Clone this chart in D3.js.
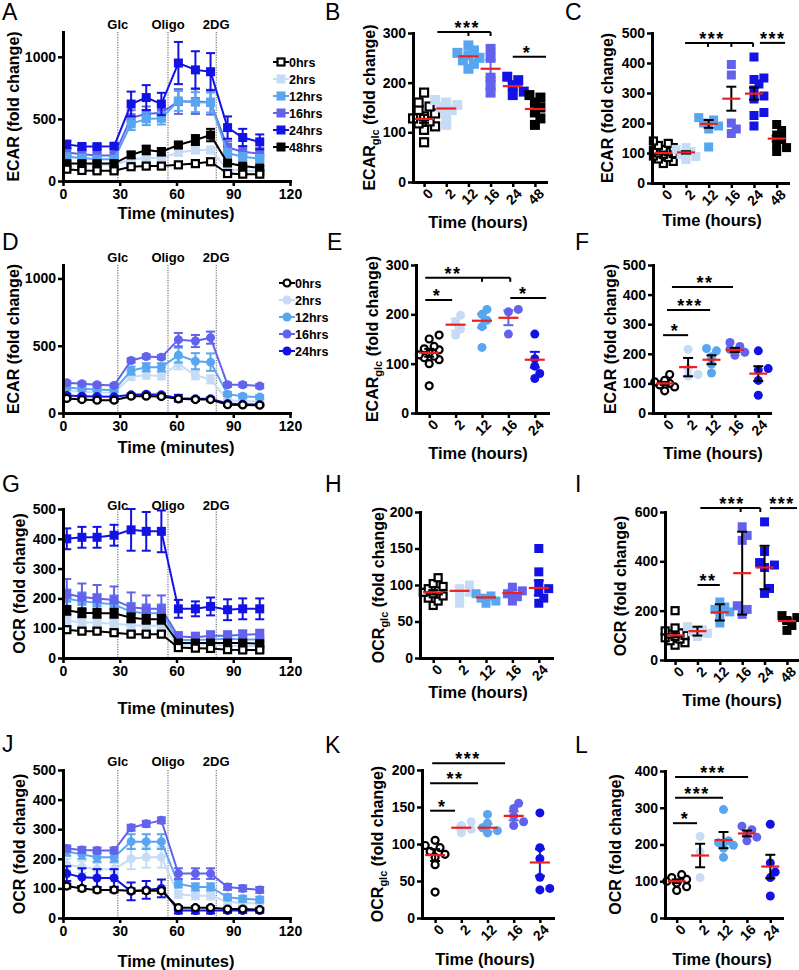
<!DOCTYPE html>
<html><head><meta charset="utf-8">
<script src="https://cdn.jsdelivr.net/npm/d3@7"></script>
<style>
body{margin:0;background:#fff;}
svg{font-family:"Liberation Sans",Arial,Helvetica,sans-serif;}
</style></head><body>
<script>
// ---------------- DATA ----------------
const times = [2, 10, 18, 27, 36, 44, 52, 61, 70, 78, 87, 95, 104];
const injTimes = [29, 55.5, 81];
const injLabels = ["Glc", "Oligo", "2DG"];
const legendA = ["0hrs", "2hrs", "12hrs", "16hrs", "24hrs", "48hrs"];
const legendD = ["0hrs", "2hrs", "12hrs", "16hrs", "24hrs"];
const cats6 = ["0", "2", "12", "16", "24", "48"];
const cats5 = ["0", "2", "12", "16", "24"];
const xTicksMin = [0, 30, 60, 90, 120];

// Panel A: ECAR time course (squares)
const ecarA_0 = [95, 85, 82, 82, 115, 120, 120, 130, 140, 155, 60, 55, 55];
const ecarA_0_err = [12, 10, 10, 10, 10, 10, 10, 12, 15, 20, 8, 8, 8];
const ecarA_2 = [140, 135, 130, 128, 175, 185, 185, 230, 250, 250, 95, 85, 80];
const ecarA_2_err = [15, 15, 15, 15, 20, 20, 20, 25, 25, 25, 10, 10, 10];
const ecarA_12 = [195, 185, 175, 175, 460, 500, 505, 645, 635, 632, 225, 195, 180];
const ecarA_12_err = [20, 20, 20, 20, 50, 50, 50, 80, 80, 80, 35, 30, 30];
const ecarA_16 = [230, 215, 205, 205, 510, 540, 550, 640, 640, 635, 270, 235, 220];
const ecarA_16_err = [30, 25, 25, 25, 60, 60, 60, 100, 100, 100, 50, 45, 45];
const ecarA_24 = [295, 278, 277, 280, 620, 672, 620, 950, 895, 880, 430, 350, 315];
const ecarA_24_err = [30, 20, 20, 20, 100, 100, 90, 170, 150, 150, 90, 70, 60];
const ecarA_48 = [140, 140, 140, 140, 210, 250, 236, 290, 330, 370, 145, 120, 105];
const ecarA_48_err = [20, 20, 20, 20, 25, 35, 30, 25, 40, 50, 20, 15, 15];

// Panel D: ECAR time course (circles)
const ecarD_0 = [108, 100, 95, 95, 125, 125, 122, 105, 100, 100, 62, 60, 58];
const ecarD_0_err = [10, 8, 8, 8, 10, 10, 10, 10, 10, 10, 8, 8, 8];
const ecarD_2 = [165, 158, 152, 150, 270, 280, 275, 365, 280, 250, 95, 90, 85];
const ecarD_2_err = [15, 15, 15, 15, 25, 25, 25, 40, 30, 30, 10, 10, 10];
const ecarD_12 = [190, 180, 175, 170, 315, 340, 340, 430, 385, 378, 140, 125, 118];
const ecarD_12_err = [15, 15, 15, 15, 30, 30, 30, 55, 60, 65, 15, 15, 15];
const ecarD_16 = [225, 218, 210, 205, 390, 420, 415, 545, 535, 560, 210, 210, 200];
const ecarD_16_err = [12, 12, 12, 12, 15, 15, 15, 50, 45, 45, 15, 15, 15];
const ecarD_24 = [130, 125, 122, 120, 135, 140, 135, 110, 105, 105, 70, 65, 62];
const ecarD_24_err = [10, 8, 8, 8, 10, 10, 10, 25, 10, 10, 8, 8, 8];

// Panel G: OCR time course (squares)
const ocrG_0 = [95, 90, 90, 85, 80, 80, 80, 35, 33, 32, 28, 27, 27];
const ocrG_0_err = [8, 8, 8, 8, 8, 8, 8, 6, 6, 6, 5, 5, 5];
const ocrG_2 = [125, 120, 118, 115, 110, 108, 108, 45, 45, 45, 42, 40, 40];
const ocrG_2_err = [15, 15, 15, 15, 15, 15, 15, 8, 8, 8, 8, 8, 8];
const ocrG_12 = [200, 190, 185, 180, 155, 150, 150, 60, 60, 62, 65, 62, 62];
const ocrG_12_err = [30, 30, 30, 30, 30, 30, 30, 12, 12, 12, 15, 15, 15];
const ocrG_16 = [215, 205, 200, 195, 170, 165, 165, 72, 70, 75, 75, 78, 80];
const ocrG_16_err = [50, 45, 45, 45, 50, 45, 45, 15, 15, 15, 15, 15, 15];
const ocrG_24 = [400, 405, 405, 412, 430, 425, 425, 165, 165, 173, 162, 165, 165];
const ocrG_24_err = [35, 35, 35, 35, 70, 65, 70, 30, 25, 30, 35, 35, 35];
const ocrG_48 = [160, 152, 150, 150, 135, 130, 130, 50, 50, 50, 50, 50, 48];
const ocrG_48_err = [15, 15, 15, 15, 15, 15, 15, 8, 8, 8, 8, 8, 8];

// Panel J: OCR time course (circles)
const ocrJ_0 = [108, 100, 95, 95, 92, 92, 92, 35, 35, 35, 30, 30, 28];
const ocrJ_0_err = [8, 8, 8, 8, 8, 8, 8, 5, 5, 5, 5, 5, 5];
const ocrJ_2 = [180, 172, 165, 165, 200, 205, 205, 80, 75, 75, 55, 50, 50];
const ocrJ_2_err = [20, 20, 20, 20, 35, 35, 35, 12, 12, 12, 10, 10, 10];
const ocrJ_12 = [225, 215, 205, 205, 258, 258, 258, 115, 105, 105, 70, 65, 62];
const ocrJ_12_err = [15, 15, 15, 15, 25, 25, 25, 12, 12, 12, 10, 10, 10];
const ocrJ_16 = [235, 230, 228, 228, 305, 318, 330, 150, 150, 150, 105, 100, 95];
const ocrJ_16_err = [10, 10, 10, 10, 10, 10, 10, 18, 18, 18, 10, 10, 10];
const ocrJ_24 = [150, 138, 135, 135, 90, 95, 100, 25, 25, 25, 25, 25, 25];
const ocrJ_24_err = [25, 30, 30, 30, 30, 30, 30, 10, 10, 10, 8, 8, 8];

// Panel B: ECAR_glc (squares)
const ecarGlcB = [
  [80, 105, 112, 118, 122, 128, 132, 138, 145, 152, 160, 180],
  [115, 135, 145, 150, 155, 160, 165],
  [228, 238, 245, 250, 255, 260, 265, 275],
  [180, 195, 210, 250, 268],
  [175, 182, 195, 205, 212],
  [115, 128, 140, 150, 160, 170, 175]];
const ecarGlcB_mean = [127, 148, 253, 228, 193, 147];
const ecarGlcB_err = [8, 6, 5, 18, 8, 10];

// Panel C: ECAR (squares)
const ecarC = [
  [65, 72, 80, 85, 90, 95, 98, 100, 104, 108, 112, 118, 125, 132, 140],
  [78, 88, 95, 105, 112, 118],
  [120, 180, 190, 200, 210, 218],
  [165, 180, 200, 360, 395],
  [190, 225, 235, 280, 290, 310, 330, 345, 350, 420],
  [105, 118, 130, 145, 160, 175, 195]];
const ecarC_mean = [100, 102, 197, 281, 298, 148];
const ecarC_err = [5, 4, 13, 40, 20, 10];

// Panel E: ECAR_glc (circles)
const ecarGlcE = [
  [55, 100, 108, 112, 115, 118, 122, 128, 130, 135, 150, 158],
  [158, 170, 185, 198],
  [133, 175, 188, 200, 210],
  [160, 205, 210],
  [70, 80, 95, 110, 160]];
const ecarGlcE_mean = [122, 179, 187, 193, 108];
const ecarGlcE_err = [8, 12, 14, 15, 16];

// Panel F: ECAR (circles)
const ecarF = [
  [75, 88, 95, 100, 105, 110, 130],
  [125, 130, 150, 215],
  [135, 165, 190, 210, 218],
  [195, 205, 215, 225, 238],
  [60, 110, 145, 150, 210]];
const ecarF_mean = [100, 155, 180, 213, 133];
const ecarF_err = [5, 31, 15, 7, 25];

// Panel H: OCR_glc (squares)
const ocrGlcH = [
  [72, 78, 82, 85, 88, 90, 92, 95, 98, 102, 110],
  [75, 85, 90, 95, 100],
  [75, 78, 82, 85, 88],
  [78, 84, 88, 92, 97],
  [75, 82, 90, 95, 102, 118, 150]];
const ocrGlcH_mean = [90, 92, 83, 89, 96];
const ocrGlcH_err = [3, 5, 3, 4, 10];

// Panel I: OCR (squares)
const ocrI = [
  [60, 70, 78, 85, 90, 95, 100, 105, 110, 118, 130, 200],
  [95, 108, 115, 122, 135],
  [150, 180, 195, 205, 215, 235],
  [185, 205, 220, 485, 505, 540],
  [270, 290, 375, 385, 395, 440, 560],
  [120, 140, 160, 172, 180]];
const ocrI_mean = [100, 117, 193, 352, 375, 158];
const ocrI_err = [8, 18, 33, 168, 88, 10];

// Panel K: OCR_glc (circles)
const ocrGlcK = [
  [35, 72, 82, 86, 90, 95, 98, 105],
  [115, 120, 125, 130],
  [115, 118, 122, 128, 140],
  [125, 130, 138, 148, 155],
  [38, 40, 55, 80, 95, 142]];
const ocrGlcK_mean = [85, 122, 122, 138, 75];
const ocrGlcK_err = [8, 3, 5, 6, 18];

// Panel L: OCR (circles)
const ocrL = [
  [75, 85, 95, 100, 105, 110, 118],
  [110, 180, 222],
  [165, 190, 198, 205, 210, 295],
  [210, 220, 228, 240, 250],
  [60, 110, 125, 150, 255]];
const ocrL_mean = [100, 170, 212, 230, 140];
const ocrL_err = [5, 32, 22, 8, 32];

// Significance annotations (category index units, value units)
const sigB = [{from: 0.6, to: 3, ticks: [2, 3], y: 302, at: 1.95, label: "***"},
              {from: 4.0, to: 5.5, ticks: [], y: 252, at: 4.64, label: "*"}];
const sigC = [{from: 0.96, to: 3.96, ticks: [1.97, 3, 3.96], y: 467, at: 2.15, label: "***"},
              {from: 4.26, to: 5.37, ticks: [], y: 467, at: 4.83, label: "***"}];
const sigE = [{from: -0.15, to: 0.87, ticks: [], y: 229, at: 0.3, label: "*"},
              {from: -0.15, to: 3.07, ticks: [2, 3.07], y: 274, at: 0.9, label: "**"},
              {from: 3.07, to: 4.43, ticks: [], y: 233, at: 3.56, label: "*"}];
const sigF = [{from: -0.07, to: 1.0, ticks: [], y: 263, at: 0.44, label: "*"},
              {from: 0.1, to: 1.94, ticks: [], y: 348, at: 1.08, label: "***"},
              {from: 0.31, to: 2.92, ticks: [], y: 426, at: 1.72, label: "**"}];
const sigI = [{from: 1.0, to: 2.0, ticks: [], y: 304, at: 1.47, label: "**"},
              {from: 1.13, to: 3.81, ticks: [2.93, 3.81], y: 616, at: 2.55, label: "***"},
              {from: 4.24, to: 5.45, ticks: [], y: 616, at: 4.78, label: "***"}];
const sigK = [{from: -0.19, to: 0.76, ticks: [], y: 145, at: 0.27, label: "*"},
              {from: -0.19, to: 1.64, ticks: [], y: 182, at: 0.76, label: "**"},
              {from: -0.11, to: 2.67, ticks: [], y: 209, at: 1.26, label: "***"}];
const sigL = [{from: -0.16, to: 0.87, ticks: [], y: 258, at: 0.35, label: "*"},
              {from: -0.07, to: 1.98, ticks: [], y: 327, at: 0.87, label: "***"},
              {from: -0.07, to: 3.05, ticks: [], y: 384, at: 1.55, label: "***"}];

// ---------------- STYLE ----------------
const colorOf = {"0": "#000000", "2": "#c6dbf5", "12": "#58a6f0", "16": "#6262ec", "24": "#1212e4", "48": "#000000"};
const RED = "#f21d1d";
const W = 799, H = 970;
const svg = d3.select("body").append("svg").attr("width", W).attr("height", H);
const fmt = d3.format("d");

function marker(sel, shape, cx, cy, size, key) {
  const open = key === "0";
  const col = colorOf[key];
  if (shape === "sq") {
    const s = open ? size - 2 : size;
    sel.append("rect").attr("x", cx - s / 2).attr("y", cy - s / 2).attr("width", s).attr("height", s)
      .attr("fill", open ? "#fff" : col).attr("stroke", open ? "#000" : "none").attr("stroke-width", open ? 2.2 : 0);
  } else {
    const r = open ? size / 2 - 1 : size / 2;
    sel.append("circle").attr("cx", cx).attr("cy", cy).attr("r", r)
      .attr("fill", open ? "#fff" : col).attr("stroke", open ? "#000" : "none").attr("stroke-width", open ? 2.2 : 0);
  }
}

function styleAxis(g) {
  g.select(".domain").attr("stroke", "#000").attr("stroke-width", 3).attr("stroke-linecap", "square");
  g.selectAll(".tick line").attr("stroke", "#000").attr("stroke-width", 2.5);
  g.selectAll(".tick text").attr("fill", "#000").attr("font-size", 14).attr("font-weight", "bold")
    .attr("font-family", '"Liberation Sans",Arial,sans-serif');
}

function letter(t, x, y) {
  svg.append("text").attr("x", x).attr("y", y).attr("font-size", 23).attr("fill", "#000").text(t);
}

function yLabel(x, y, main, sub) {
  const t = svg.append("text").attr("transform", `translate(${x},${y}) rotate(-90)`)
    .attr("text-anchor", "middle").attr("dy", "0.35em").attr("font-size", 16).attr("font-weight", "bold");
  t.append("tspan").text(main);
  if (sub) {
    t.append("tspan").attr("dy", 4).attr("font-size", 11).text(sub);
    t.append("tspan").attr("dy", -4).text(" (fold change)");
  } else {
    t.append("tspan").text(" (fold change)");
  }
}

function xTitle(x, y, txt) {
  svg.append("text").attr("x", x).attr("y", y).attr("text-anchor", "middle")
    .attr("font-size", 16.5).attr("font-weight", "bold").text(txt);
}

// ---------------- LINE PANELS ----------------
function linePanel(o) {
  const g = svg.append("g");
  const x = d3.scaleLinear().domain([0, 120]).range([63, 290]);
  const y = d3.scaleLinear().domain([0, o.ymax]).range([o.y0, o.ytop]);
  injTimes.forEach((t, i) => {
    g.append("line").attr("x1", x(t)).attr("x2", x(t)).attr("y1", y(o.ymax)).attr("y2", y(0))
      .attr("stroke", "#555").attr("stroke-width", 1).attr("stroke-dasharray", "1.2,1.3");
    g.append("text").attr("x", x(t)).attr("y", o.injY).attr("text-anchor", "middle")
      .attr("font-size", 13).attr("font-weight", "bold").text(injLabels[i]);
  });
  o.series.forEach(([key, vals, errs]) => {
    const col = colorOf[key];
    const pts = times.map((t, i) => ({t, v: vals[i], e: errs[i]}));
    const eg = g.append("g").attr("stroke", col).attr("stroke-width", 2);
    pts.forEach(p => {
      eg.append("line").attr("x1", x(p.t)).attr("x2", x(p.t)).attr("y1", y(p.v - p.e)).attr("y2", y(p.v + p.e));
      [p.v - p.e, p.v + p.e].forEach(v => eg.append("line").attr("x1", x(p.t) - 4.5).attr("x2", x(p.t) + 4.5)
        .attr("y1", y(v)).attr("y2", y(v)));
    });
    g.append("path").datum(pts).attr("d", d3.line().x(p => x(p.t)).y(p => y(p.v)))
      .attr("fill", "none").attr("stroke", col).attr("stroke-width", 2);
    const mg = g.append("g");
    pts.forEach(p => marker(mg, o.shape, x(p.t), y(p.v), 9, key));
  });
  const ya = g.append("g").attr("transform", "translate(63,0)")
    .call(d3.axisLeft(y).tickValues(o.yticks).tickFormat(fmt).tickSize(5).tickPadding(2).tickSizeOuter(0));
  styleAxis(ya);
  const xa = g.append("g").attr("transform", `translate(0,${o.y0})`)
    .call(d3.axisBottom(x).tickValues(xTicksMin).tickFormat(fmt).tickSize(5).tickPadding(3).tickSizeOuter(0));
  styleAxis(xa);
  xTitle(176, o.titleY, "Time (minutes)");
  yLabel(o.ylx, (o.y0 + o.ytop) / 2, o.ylabel);
  if (o.legend) {
    o.legend.forEach((lab, i) => {
      const key = lab.replace("hrs", "");
      const cy = o.legY + i * o.legStep;
      const cx = o.legX;
      g.append("line").attr("x1", cx - 8).attr("x2", cx + 8).attr("y1", cy).attr("y2", cy)
        .attr("stroke", colorOf[key]).attr("stroke-width", 2);
      marker(g, o.shape, cx, cy, 9, key);
      g.append("text").attr("x", cx + 8).attr("y", cy + 4.5).attr("font-size", 12.5).attr("font-weight", "bold").text(lab);
    });
  }
}

// ---------------- CATEGORY PANELS ----------------
function swarm(vals, y, size) {
  const placed = [];
  const sorted = vals.slice().sort((a, b) => a - b);
  const step = size * 0.55;
  const cands = [0, step, -step, 2 * step, -2 * step];
  const minD = size * 0.72;
  sorted.forEach(v => {
    const py = y(v);
    let best = 0, bestD = -1;
    for (const off of cands) {
      const d = placed.length ? d3.min(placed, q => Math.hypot(q.dx - off, q.py - py)) : Infinity;
      if (d >= minD) { best = off; bestD = d; break; }
      if (d > bestD) { bestD = d; best = off; }
    }
    placed.push({dx: best, py});
  });
  return placed;
}

function catPanel(o) {
  const g = svg.append("g");
  const x = d3.scalePoint().domain(o.cats).range([o.left, o.right]).padding(o.pad);
  const y = d3.scaleLinear().domain([0, o.ymax]).range([o.y0, o.ytop]);
  const pg = g.append("g");
  o.groups.forEach((vals, gi) => {
    const key = o.cats[gi];
    swarm(vals, y, o.size).forEach(p => marker(pg, o.shape, x(key) + p.dx, p.py, o.size, key));
  });
  o.cats.forEach((key, gi) => {
    const cx = x(key), m = o.means[gi], e = o.errs[gi];
    const col = o.errBlack ? "#000" : colorOf[key];
    const eg = g.append("g").attr("stroke", col).attr("stroke-width", 2);
    eg.append("line").attr("x1", cx).attr("x2", cx).attr("y1", y(m - e)).attr("y2", y(m + e));
    [m - e, m + e].forEach(v => eg.append("line").attr("x1", cx - 5).attr("x2", cx + 5).attr("y1", y(v)).attr("y2", y(v)));
    g.append("line").attr("x1", cx - o.meanW / 2).attr("x2", cx + o.meanW / 2).attr("y1", y(m)).attr("y2", y(m))
      .attr("stroke", RED).attr("stroke-width", 2.2);
  });
  const ya = g.append("g").attr("transform", `translate(${o.left},0)`)
    .call(d3.axisLeft(y).tickValues(o.yticks).tickFormat(fmt).tickSize(5).tickPadding(2).tickSizeOuter(0));
  styleAxis(ya);
  const xa = g.append("g").attr("transform", `translate(0,${o.y0})`)
    .call(d3.axisBottom(x).tickSize(5).tickSizeOuter(0));
  styleAxis(xa);
  xa.selectAll(".tick text").attr("x", 0).attr("y", 0).attr("dy", "0.35em")
    .attr("text-anchor", "end").attr("transform", "translate(6,9) rotate(-45)");
  // significance
  const ix = i => x(o.cats[0]) + i * x.step();
  const sg = g.append("g");
  o.sig.forEach(s => {
    const yy = y(s.y);
    sg.append("line").attr("x1", ix(s.from)).attr("x2", Math.min(ix(s.to), 798)).attr("y1", yy).attr("y2", yy)
      .attr("stroke", "#000").attr("stroke-width", 2);
    s.ticks.forEach(t => sg.append("line").attr("x1", ix(t)).attr("x2", ix(t)).attr("y1", yy).attr("y2", yy + 4)
      .attr("stroke", "#000").attr("stroke-width", 2));
    sg.append("text").attr("x", ix(s.at)).attr("y", yy + 2).attr("text-anchor", "middle")
      .attr("font-size", 18).attr("font-weight", "bold").attr("letter-spacing", 1.5).text(s.label);
  });
  xTitle(o.tx, o.ty, "Time (hours)");
  yLabel(o.ylx, (o.y0 + o.ytop) / 2, o.ylabel, o.sub);
}

// ---------------- BUILD ----------------
letter("A", 2, 20); letter("B", 325, 20); letter("C", 565, 20);
letter("D", 2, 250); letter("E", 327, 250); letter("F", 575, 250);
letter("G", 2, 492); letter("H", 325, 492); letter("I", 575, 492);
letter("J", 2, 752); letter("K", 325, 753); letter("L", 575, 753);

linePanel({ymax: 1200, y0: 181, ytop: 32, yticks: [0, 500, 1000], injY: 28.5, shape: "sq",
  titleY: 219, ylx: 13, ylabel: "ECAR",
  legend: legendA, legX: 281, legY: 62, legStep: 17,
  series: [["16", ecarA_16, ecarA_16_err], ["12", ecarA_12, ecarA_12_err], ["2", ecarA_2, ecarA_2_err],
           ["48", ecarA_48, ecarA_48_err], ["24", ecarA_24, ecarA_24_err], ["0", ecarA_0, ecarA_0_err]]});

linePanel({ymax: 1100, y0: 413, ytop: 265, yticks: [0, 500, 1000], injY: 261.5, shape: "ci",
  titleY: 453, ylx: 13, ylabel: "ECAR",
  legend: legendD, legX: 287, legY: 283, legStep: 17,
  series: [["2", ecarD_2, ecarD_2_err], ["12", ecarD_12, ecarD_12_err], ["16", ecarD_16, ecarD_16_err],
           ["24", ecarD_24, ecarD_24_err], ["0", ecarD_0, ecarD_0_err]]});

linePanel({ymax: 500, y0: 658, ytop: 509, yticks: [0, 100, 200, 300, 400, 500], injY: 509.5, shape: "sq",
  titleY: 714, ylx: 19, ylabel: "OCR",
  series: [["2", ocrG_2, ocrG_2_err], ["12", ocrG_12, ocrG_12_err], ["16", ocrG_16, ocrG_16_err],
           ["48", ocrG_48, ocrG_48_err], ["24", ocrG_24, ocrG_24_err], ["0", ocrG_0, ocrG_0_err]]});

linePanel({ymax: 500, y0: 918, ytop: 770, yticks: [0, 100, 200, 300, 400, 500], injY: 765.5, shape: "ci",
  titleY: 967, ylx: 19, ylabel: "OCR",
  series: [["2", ocrJ_2, ocrJ_2_err], ["12", ocrJ_12, ocrJ_12_err], ["16", ocrJ_16, ocrJ_16_err],
           ["24", ocrJ_24, ocrJ_24_err], ["0", ocrJ_0, ocrJ_0_err]]});

catPanel({cats: cats6, left: 413, right: 546, pad: 0.5, y0: 182, ytop: 33, ymax: 300, yticks: [0, 100, 200, 300],
  groups: ecarGlcB, means: ecarGlcB_mean, errs: ecarGlcB_err, errBlack: false, shape: "sq", size: 10, meanW: 20,
  sig: sigB, tx: 478, ty: 228, ylx: 369, ylabel: "ECAR", sub: "glc"});
catPanel({cats: cats6, left: 652, right: 788, pad: 0.5, y0: 183, ytop: 33, ymax: 500, yticks: [0, 100, 200, 300, 400, 500],
  groups: ecarC, means: ecarC_mean, errs: ecarC_err, errBlack: true, shape: "sq", size: 9, meanW: 18,
  sig: sigC, tx: 712, ty: 226, ylx: 607, ylabel: "ECAR"});
catPanel({cats: cats5, left: 416, right: 548, pad: 0.5, y0: 413, ytop: 265, ymax: 300, yticks: [0, 100, 200, 300],
  groups: ecarGlcE, means: ecarGlcE_mean, errs: ecarGlcE_err, errBlack: false, shape: "ci", size: 9, meanW: 20,
  sig: sigE, tx: 478, ty: 459, ylx: 372, ylabel: "ECAR", sub: "glc"});
catPanel({cats: cats5, left: 653, right: 770, pad: 0.5, y0: 413, ytop: 265, ymax: 500, yticks: [0, 100, 200, 300, 400, 500],
  groups: ecarF, means: ecarF_mean, errs: ecarF_err, errBlack: true, shape: "ci", size: 9, meanW: 18,
  sig: sigF, tx: 713, ty: 459, ylx: 610, ylabel: "ECAR"});
catPanel({cats: cats5, left: 420, right: 552, pad: 0.5, y0: 658, ytop: 512, ymax: 200, yticks: [0, 50, 100, 150, 200],
  groups: ocrGlcH, means: ocrGlcH_mean, errs: ocrGlcH_err, errBlack: false, shape: "sq", size: 9, meanW: 20,
  sig: [], tx: 478, ty: 698, ylx: 378, ylabel: "OCR", sub: "glc"});
catPanel({cats: cats6, left: 665, right: 797, pad: 0.45, y0: 660, ytop: 512, ymax: 600, yticks: [0, 200, 400, 600],
  groups: ocrI, means: ocrI_mean, errs: ocrI_err, errBlack: true, shape: "sq", size: 9, meanW: 18,
  sig: sigI, tx: 732, ty: 706, ylx: 620, ylabel: "OCR"});
catPanel({cats: cats5, left: 422, right: 553, pad: 0.5, y0: 918, ytop: 770, ymax: 200, yticks: [0, 50, 100, 150, 200],
  groups: ocrGlcK, means: ocrGlcK_mean, errs: ocrGlcK_err, errBlack: false, shape: "ci", size: 9, meanW: 20,
  sig: sigK, tx: 485, ty: 965, ylx: 377, ylabel: "OCR", sub: "glc"});
catPanel({cats: cats5, left: 665, right: 782, pad: 0.5, y0: 918, ytop: 771, ymax: 400, yticks: [0, 100, 200, 300, 400],
  groups: ocrL, means: ocrL_mean, errs: ocrL_err, errBlack: true, shape: "ci", size: 9, meanW: 18,
  sig: sigL, tx: 722, ty: 965, ylx: 615, ylabel: "OCR"});
</script></body></html>
